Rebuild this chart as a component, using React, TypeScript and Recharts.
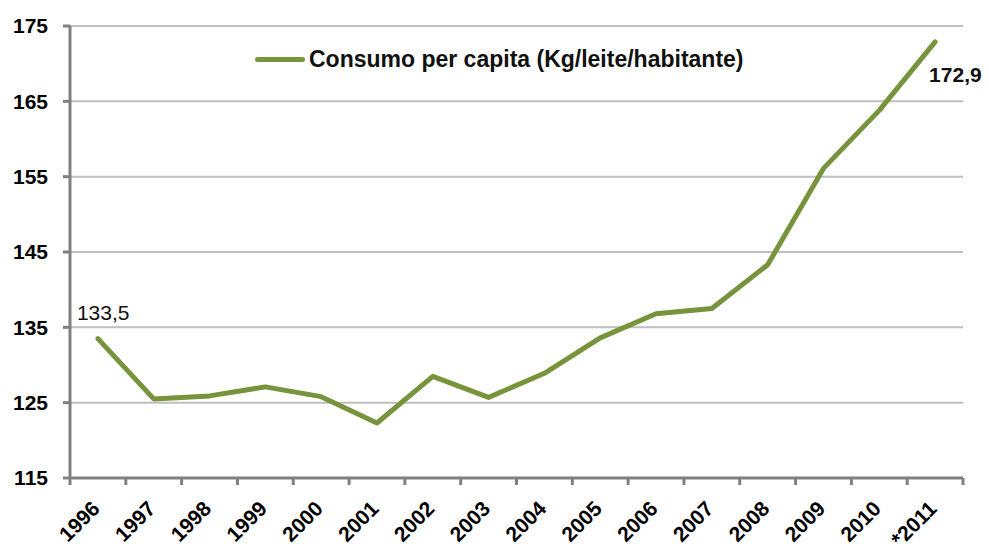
import { LineChart, Line, XAxis, YAxis, CartesianGrid, Legend, LabelList } from "recharts";

const years = ["1996", "1997", "1998", "1999", "2000", "2001", "2002", "2003", "2004", "2005", "2006", "2007", "2008", "2009", "2010", "*2011"];
const consumo = [133.5, 125.5, 125.9, 127.1, 125.8, 122.3, 128.5, 125.7, 128.9, 133.6, 136.8, 137.5, 143.3, 156.1, 163.8, 172.9];
const yTicks = [115, 125, 135, 145, 155, 165, 175];
const seriesName = "Consumo per capita (Kg/leite/habitante)";

const W = 989;
const H = 552;
const M = { top: 26, right: 26, left: 10, bottom: 0 };
const Y_AXIS_W = 60;
const BAND = (W - M.left - M.right - Y_AXIS_W) / years.length;
const FONT = "'Liberation Sans', Arial, sans-serif";
const GREEN = "#77933C";

const data = years.map((year, i) => ({ year, value: consumo[i] }));

function YearTick(props: any) {
  const { x, y, payload, index } = props;
  const half = BAND / 2;
  const ax = x + 3;
  const ay = y + 32;
  return (
    <g>
      <line x1={x - half} y1={y} x2={x - half} y2={y + 7} stroke="#808080" strokeWidth={3} />
      {index === years.length - 1 && (
        <line x1={x + half} y1={y} x2={x + half} y2={y + 7} stroke="#808080" strokeWidth={3} />
      )}
      <text
        x={ax}
        y={ay}
        textAnchor="end"
        transform={`rotate(-45 ${ax} ${ay})`}
        fontFamily={FONT}
        fontWeight="bold"
        fontSize={21}
        fill="#000"
      >
        {payload.value}
      </text>
    </g>
  );
}

function EndLabel(props: any) {
  const { x, y, index, value } = props;
  const txt = String(value).replace(".", ",");
  if (index === 0) {
    return (
      <text x={x - 21} y={y - 19} fontFamily={FONT} fontSize={21} fill="#111">
        {txt}
      </text>
    );
  }
  if (index === consumo.length - 1) {
    return (
      <text x={x - 6} y={y + 40} fontFamily={FONT} fontSize={21} fill="#111" fontWeight="bold">
        {txt}
      </text>
    );
  }
  return null;
}

function LegendBox() {
  return (
    <div style={{ display: "flex", alignItems: "center", fontFamily: FONT, fontWeight: "bold", fontSize: 23, color: "#111", whiteSpace: "nowrap" }}>
      <span style={{ display: "inline-block", width: 50, height: 5, borderRadius: 3, background: GREEN, marginRight: 4 }} />
      <span>{seriesName}</span>
    </div>
  );
}

export default function App() {
  return (
    <div style={{ position: "absolute", left: 0, top: 0, width: W, height: H, background: "#fff" }}>
      <LineChart width={W} height={H} data={data} margin={M}>
        <CartesianGrid vertical={false} stroke="#BFBFBF" strokeWidth={2} />
        <XAxis
          dataKey="year"
          scale="band"
          interval={0}
          height={74}
          axisLine={{ stroke: "#808080", strokeWidth: 3 }}
          tickLine={false}
          tickSize={0}
          tickMargin={0}
          tick={<YearTick />}
        />
        <YAxis
          domain={[115, 175]}
          ticks={yTicks}
          width={Y_AXIS_W}
          axisLine={{ stroke: "#808080", strokeWidth: 3 }}
          tickLine={{ stroke: "#808080", strokeWidth: 3 }}
          tickSize={7}
          tickMargin={15}
          tick={{ fontFamily: FONT, fontWeight: "bold", fontSize: 21, fill: "#000" }}
        />
        <Legend
          verticalAlign="middle"
          content={<LegendBox />}
          wrapperStyle={{ top: 46, left: 255, width: "auto" }}
        />
        <Line
          type="linear"
          dataKey="value"
          name={seriesName}
          stroke={GREEN}
          strokeWidth={5}
          strokeLinejoin="round"
          strokeLinecap="round"
          dot={false}
          activeDot={false}
          isAnimationActive={false}
        >
          <LabelList dataKey="value" content={<EndLabel />} />
        </Line>
      </LineChart>
    </div>
  );
}
